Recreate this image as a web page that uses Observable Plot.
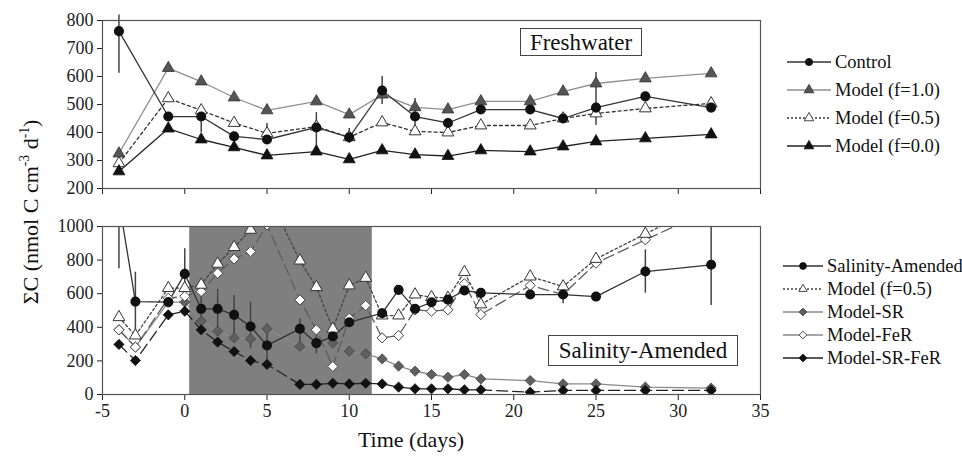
<!DOCTYPE html>
<html><head><meta charset="utf-8">
<script src="https://cdn.jsdelivr.net/npm/d3@7"></script>
<script src="https://cdn.jsdelivr.net/npm/@observablehq/plot@0.6"></script>
<style>
body{margin:0;background:#fff;}
#wrap{position:relative;width:962px;height:457px;font-family:'Liberation Serif','Tinos','DejaVu Serif',serif;color:#111;overflow:hidden;background:#fff;}
.box{position:absolute;border:1.4px solid #444;line-height:1;display:flex;align-items:center;justify-content:center;box-sizing:border-box;background:#fff;white-space:nowrap;}
.leg{position:absolute;display:flex;align-items:center;font-size:18.5px;white-space:nowrap;height:22px;}
.leg svg{display:block;margin-right:3px;}
svg text{font-family:'Liberation Serif','Tinos','DejaVu Serif',serif;}
</style></head><body><div id="wrap"></div>
<script>
// ---- tick labels ----
const xTicks = [-5, 0, 5, 10, 15, 20, 25, 30, 35];
const yTicksTop = [200, 300, 400, 500, 600, 700, 800];
const yTicksBottom = [0, 200, 400, 600, 800, 1000];

// ---- Freshwater panel ----
const daysTop   = [-4, -1, 1, 3, 5, 8, 10, 12, 14, 16, 18, 21, 23, 25, 28, 32];
const control   = [762, 457, 457, 386, 375, 418, 383, 550, 457, 434, 482, 482, 450, 489, 529, 489];
const controlLo = [612, 457, 400, 386, 361, 340, 361, 500, 400, 434, 470, 482, 450, 425, 515, 489];
const controlHi = [820, 457, 479, 386, 432, 471, 414, 600, 521, 434, 495, 482, 450, 614, 540, 489];
const modelF10  = [325, 630, 582, 525, 479, 511, 464, 535, 490, 482, 511, 511, 546, 575, 593, 611];
const modelF05  = [290, 522, 479, 434, 397, 421, 383, 436, 404, 400, 425, 425, 450, 468, 486, 504];
const modelF00  = [261, 414, 375, 347, 318, 332, 304, 336, 321, 316, 336, 332, 350, 368, 379, 393];

// ---- Salinity-Amended panel ----
const daysSal     = [-4, -3, -1, 0, 1, 2, 3, 4, 5, 7, 8, 9, 10, 12, 13, 14, 15, 16, 17, 18, 21, 23, 25, 28, 32];
const salinity    = [1150, 553, 550, 718, 510, 510, 474, 405, 292, 391, 306, 345, 430, 484, 623, 510, 549, 565, 619, 605, 595, 595, 583, 732, 772];
const salinityLo  = [748, 380, 550, 570, 400, 395, 345, 272, 163, 272, 242, 320, 400, 460, 623, 510, 549, 565, 619, 605, 595, 540, 583, 603, 530];
const salinityHi  = [1550, 728, 550, 867, 620, 625, 590, 549, 420, 450, 361, 370, 460, 510, 623, 510, 549, 565, 619, 605, 595, 600, 583, 861, 1015];
const daysModel   = [-4, -3, -1, 0, 1, 2, 3, 4, 5, 7, 8, 9, 10, 11, 12, 13, 14, 15, 16, 17, 18, 21, 23, 25, 28, 32];
const modelF05Sal = [460, 351, 633, 633, 653, 778, 877, 980, 1200, 797, 639, 391, 649, 694, 470, 470, 595, 579, 575, 728, 536, 702, 643, 807, 956, 1150];
const modelSR     = [385, 282, 550, 550, 437, 377, 337, 331, 391, 286, 306, 306, 258, 242, 212, 169, 139, 119, 103, 119, 93, 83, 63, 63, 44, 38];
const modelFeR    = [385, 282, 573, 585, 613, 722, 807, 851, 1010, 563, 385, 167, 454, 530, 337, 351, 504, 496, 504, 659, 476, 649, 595, 782, 921, 1100];
const modelSRFeR  = [298, 202, 474, 496, 385, 312, 256, 202, 179, 60, 60, 67, 63, 67, 63, 44, 34, 34, 34, 28, 28, 14, 24, 24, 24, 24];
const shadeStart  = [0.3];
const shadeEnd    = [11.4];

// ---- helpers ----
const rows = (days, vals) => days.map((d, i) => ({day: d, v: vals[i]}));
const errRows = (days, vals, lo, hi) => days.map((d, i) => ({day: d, v: vals[i], lo: lo[i], hi: hi[i]})).filter(r => r.hi - r.lo > 1);
const serif = "'Liberation Serif', 'Tinos', 'DejaVu Serif', serif";
const baseStyle = {fontFamily: serif, fontSize: "18px", color: "#222", background: "transparent", overflow: "visible"};
const wrap = document.getElementById("wrap");

// ---- top panel ----
const topPlot = Plot.plot({
  width: 962, height: 205,
  marginTop: 20, marginLeft: 102, marginRight: 202, marginBottom: 17,
  style: baseStyle,
  x: {domain: [-5, 35], ticks: xTicks, tickFormat: () => "", label: null, tickSize: 6},
  y: {domain: [200, 800], ticks: yTicksTop, tickFormat: d => String(d), label: null, tickSize: 5, tickPadding: 4},
  marks: [
    Plot.line(rows(daysTop, modelF10), {x: "day", y: "v", stroke: "#8f8f8f", strokeWidth: 1.3}),
    Plot.line(rows(daysTop, modelF05), {x: "day", y: "v", stroke: "#333", strokeWidth: 1.3, strokeDasharray: "3,3"}),
    Plot.line(rows(daysTop, modelF00), {x: "day", y: "v", stroke: "#222", strokeWidth: 1.3}),
    Plot.line(rows(daysTop, control), {x: "day", y: "v", stroke: "#333", strokeWidth: 1.3}),
    Plot.ruleX(errRows(daysTop, control, controlLo, controlHi), {x: "day", y1: "lo", y2: "hi", stroke: "#444", strokeWidth: 1.5}),
    Plot.dot(rows(daysTop, modelF10), {x: "day", y: "v", symbol: "triangle", r: 4.4, fill: "#555", stroke: "#333", strokeWidth: 0.8}),
    Plot.dot(rows(daysTop, modelF05), {x: "day", y: "v", symbol: "triangle", r: 4.4, fill: "#fff", stroke: "#333", strokeWidth: 1}),
    Plot.dot(rows(daysTop, modelF00), {x: "day", y: "v", symbol: "triangle", r: 4.4, fill: "#111", stroke: "#111", strokeWidth: 0.8}),
    Plot.dot(rows(daysTop, control), {x: "day", y: "v", symbol: "circle", r: 4.3, fill: "#111", stroke: "#111"}),
    Plot.frame({stroke: "#555", strokeWidth: 1.2})
  ]
});

// ---- bottom panel ----
const bottomPlot = Plot.plot({
  width: 962, height: 252,
  marginTop: 21, marginLeft: 102, marginRight: 202, marginBottom: 63,
  style: baseStyle,
  x: {domain: [-5, 35], ticks: xTicks, tickFormat: d => String(d), label: null, tickSize: 6, tickPadding: 4},
  y: {domain: [0, 1000], ticks: yTicksBottom, tickFormat: d => String(d), label: null, tickSize: 5, tickPadding: 4},
  marks: [
    Plot.rect(shadeStart.map((s, i) => ({s, e: shadeEnd[i]})), {x1: "s", x2: "e", fill: "#7f7f7f"}),
    Plot.line(rows(daysModel, modelSR), {x: "day", y: "v", stroke: "#8a8a8a", strokeWidth: 1.3, clip: true}),
    Plot.line(rows(daysModel, modelFeR), {x: "day", y: "v", stroke: "#5e5e5e", strokeWidth: 1.3, strokeDasharray: "11,5", clip: true}),
    Plot.line(rows(daysModel, modelSRFeR), {x: "day", y: "v", stroke: "#222", strokeWidth: 1.3, strokeDasharray: "11,5", clip: true}),
    Plot.line(rows(daysModel, modelF05Sal), {x: "day", y: "v", stroke: "#444", strokeWidth: 1.3, strokeDasharray: "2.5,2.5", clip: true}),
    Plot.line(rows(daysSal, salinity), {x: "day", y: "v", stroke: "#333", strokeWidth: 1.3, clip: true}),
    Plot.ruleX(errRows(daysSal, salinity, salinityLo, salinityHi), {x: "day", y1: "lo", y2: "hi", stroke: "#444", strokeWidth: 1.5, clip: true}),
    Plot.dot(rows(daysModel, modelSR), {x: "day", y: "v", symbol: "diamond2", r: 4.6, fill: "#5f5f5f", stroke: "#444", strokeWidth: 0.8, clip: true}),
    Plot.dot(rows(daysModel, modelFeR), {x: "day", y: "v", symbol: "diamond2", r: 4.6, fill: "#fff", stroke: "#444", strokeWidth: 1, clip: true}),
    Plot.dot(rows(daysModel, modelSRFeR), {x: "day", y: "v", symbol: "diamond2", r: 4.6, fill: "#111", stroke: "#111", strokeWidth: 0.8, clip: true}),
    Plot.dot(rows(daysModel, modelF05Sal), {x: "day", y: "v", symbol: "triangle", r: 4.4, fill: "#fff", stroke: "#333", strokeWidth: 1, clip: true}),
    Plot.dot(rows(daysSal, salinity), {x: "day", y: "v", symbol: "circle", r: 4.3, fill: "#111", stroke: "#111", clip: true}),
    Plot.frame({stroke: "#555", strokeWidth: 1.2})
  ]
});

for (const [el, t] of [[topPlot, 0], [bottomPlot, 205]]) {
  el.style.position = "absolute";
  el.style.left = "0px";
  el.style.top = t + "px";
  wrap.appendChild(el);
}

// ---- annotation boxes ----
function box(text, left, top, w, h, fs) {
  const d = document.createElement("div");
  d.className = "box";
  d.textContent = text;
  Object.assign(d.style, {left: left + "px", top: top + "px", width: w + "px", height: h + "px", fontSize: fs + "px"});
  wrap.appendChild(d);
}
box("Freshwater", 520, 28, 122, 28, 23);
box("Salinity-Amended", 548, 335, 190, 31, 23);

// ---- axis titles ----
const yt = document.createElement("div");
yt.innerHTML = "ΣC (nmol C cm<sup style='font-size:0.62em'>-3</sup> d<sup style='font-size:0.62em'>-1</sup>)";
Object.assign(yt.style, {position: "absolute", left: "30px", top: "212px", transform: "translate(-50%,-50%) rotate(-90deg)", fontSize: "22px", whiteSpace: "nowrap", lineHeight: "1"});
wrap.appendChild(yt);

const xt = document.createElement("div");
xt.textContent = "Time (days)";
Object.assign(xt.style, {position: "absolute", left: "411px", top: "440px", transform: "translate(-50%,-50%)", fontSize: "22px", whiteSpace: "nowrap", lineHeight: "1"});
wrap.appendChild(xt);

// ---- legends ----
const legendTop = [
  {label: "Control", stroke: "#333", dash: null, sym: "circle", size: 40, fill: "#111", sstroke: "#111"},
  {label: "Model (f=1.0)", stroke: "#8f8f8f", dash: null, sym: "triangle", size: 40, fill: "#555", sstroke: "#333"},
  {label: "Model (f=0.5)", stroke: "#333", dash: "2,2", sym: "triangle", size: 40, fill: "#fff", sstroke: "#333"},
  {label: "Model (f=0.0)", stroke: "#222", dash: null, sym: "triangle", size: 40, fill: "#111", sstroke: "#111"}
];
const legendBottom = [
  {label: "Salinity-Amended", stroke: "#333", dash: null, sym: "circle", size: 36, fill: "#111", sstroke: "#111"},
  {label: "Model (f=0.5)", stroke: "#444", dash: "2,2", sym: "triangle", size: 30, fill: "#fff", sstroke: "#333"},
  {label: "Model-SR", stroke: "#8a8a8a", dash: null, sym: "diamond", size: 30, fill: "#5f5f5f", sstroke: "#444"},
  {label: "Model-FeR", stroke: "#8a8a8a", dash: null, sym: "diamond", size: 30, fill: "#fff", sstroke: "#444"},
  {label: "Model-SR-FeR", stroke: "#222", dash: null, sym: "diamond", size: 30, fill: "#111", sstroke: "#111"}
];
const symMap = {circle: d3.symbolCircle, triangle: d3.symbolTriangle, diamond: d3.symbolSquare};
function legend(items, left, firstY, step, swW) {
  items.forEach((it, i) => {
    const row = document.createElement("div");
    row.className = "leg";
    row.style.left = left + "px";
    row.style.top = (firstY + i * step - 11) + "px";
    const svg = d3.create("svg").attr("width", swW).attr("height", 14);
    svg.append("line").attr("x1", 1).attr("x2", swW - 1).attr("y1", 7).attr("y2", 7)
      .attr("stroke", it.stroke).attr("stroke-width", 1.3).attr("stroke-dasharray", it.dash);
    svg.append("path").attr("d", d3.symbol(symMap[it.sym], it.size)())
      .attr("transform", `translate(${swW / 2},7)` + (it.sym === "diamond" ? " rotate(45)" : ""))
      .attr("fill", it.fill).attr("stroke", it.sstroke).attr("stroke-width", 0.9);
    row.appendChild(svg.node());
    const sp = document.createElement("span");
    sp.textContent = it.label;
    row.appendChild(sp);
    wrap.appendChild(row);
  });
}
legend(legendTop, 786, 62, 28, 46);
legend(legendBottom, 782, 266, 23, 42);
</script></body></html>
